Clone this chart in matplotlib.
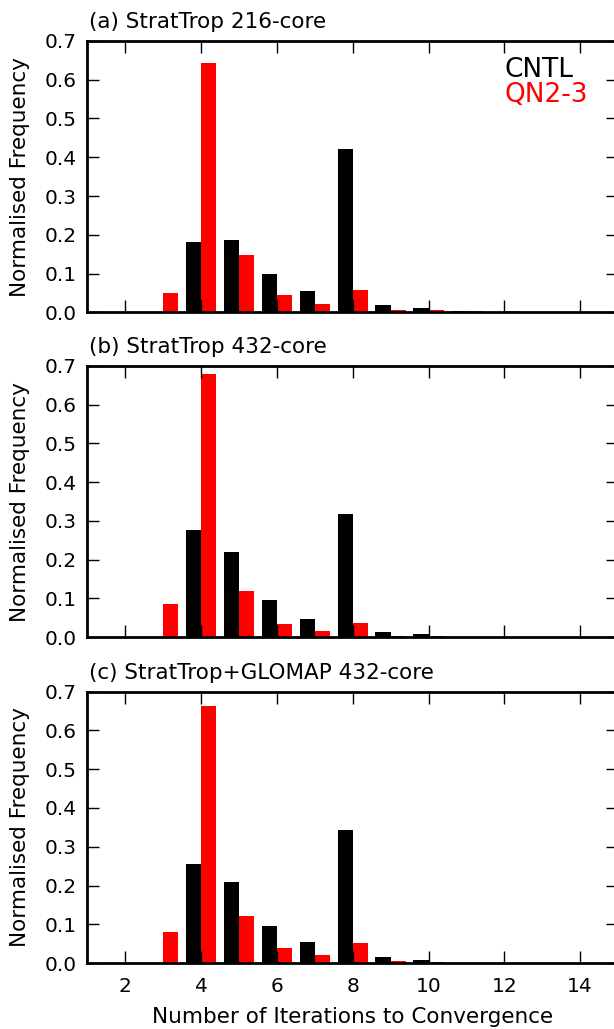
import numpy as np
import matplotlib
matplotlib.use('Agg')
import matplotlib.pyplot as plt

# iterations to convergence
iters = np.arange(3, 13)

# normalised frequencies
cntl_a = [0.0, 0.182, 0.186, 0.100, 0.056, 0.421, 0.020, 0.012, 0.004, 0.002]
qn_a = [0.049, 0.644, 0.147, 0.045, 0.022, 0.057, 0.007, 0.005, 0.004, 0.003]

cntl_b = [0.0, 0.276, 0.220, 0.095, 0.047, 0.318, 0.014, 0.008, 0.001, 0.0]
qn_b = [0.085, 0.678, 0.120, 0.033, 0.015, 0.037, 0.004, 0.002, 0.001, 0.0]

cntl_c = [0.0, 0.256, 0.209, 0.096, 0.053, 0.344, 0.015, 0.008, 0.001, 0.0]
qn_c = [0.079, 0.662, 0.121, 0.038, 0.020, 0.051, 0.005, 0.003, 0.001, 0.0]

titles = ['(a) StratTrop 216-core',
          '(b) StratTrop 432-core',
          '(c) StratTrop+GLOMAP 432-core']

panels = [(cntl_a, qn_a), (cntl_b, qn_b), (cntl_c, qn_c)]

fig = plt.figure(figsize=(6.14, 10.29), dpi=100)

# axes boxes in figure fractions: left, bottom, width, height
bottoms = [0.6965, 0.3807, 0.0641]
left, width, height = 0.1425, 0.864, 0.2637

fs_tick = 14.5
fs_lab = 15.5
for i, (cntl, qn) in enumerate(panels):
    ax = fig.add_axes([left, bottoms[i], width, height])
    ax.bar(iters, cntl, width=-0.4, align='edge', color='black', linewidth=0)
    ax.bar(iters, qn, width=0.4, align='edge', color='red', linewidth=0)

    ax.set_xlim(1, 15)
    ax.set_ylim(0, 0.7)
    ax.set_xticks(range(2, 16, 2))
    ax.set_yticks(np.arange(0, 0.71, 0.1))
    ax.set_yticklabels(['%.1f' % v for v in np.arange(0, 0.71, 0.1)])
    ax.tick_params(direction='in', length=8.5, width=1, top=True, right=True,
                   labelsize=fs_tick)
    ax.tick_params(axis='y', pad=7.5)
    ax.tick_params(axis='x', pad=10)
    for s in ax.spines.values():
        s.set_linewidth(2)
    ax.set_ylabel('Normalised Frequency', fontsize=fs_lab)
    ax.yaxis.set_label_coords(-0.108, 0.5)
    ax.annotate(titles[i], xy=(0, 1), xycoords='axes fraction',
                xytext=(1, 9), textcoords='offset points',
                ha='left', va='baseline', fontsize=fs_lab)
    if i < 2:
        ax.set_xticklabels([])
    else:
        ax.set_xlabel('Number of Iterations to Convergence', fontsize=fs_lab,
                      labelpad=8)

    if i == 0:
        ax.text(0.787, 0.868, 'CNTL', transform=ax.transAxes, ha='left',
                va='baseline', fontsize=19, color='black')
        ax.text(0.787, 0.776, 'QN2-3', transform=ax.transAxes, ha='left',
                va='baseline', fontsize=19, color='red')

fig.savefig('out.png', dpi=100)
